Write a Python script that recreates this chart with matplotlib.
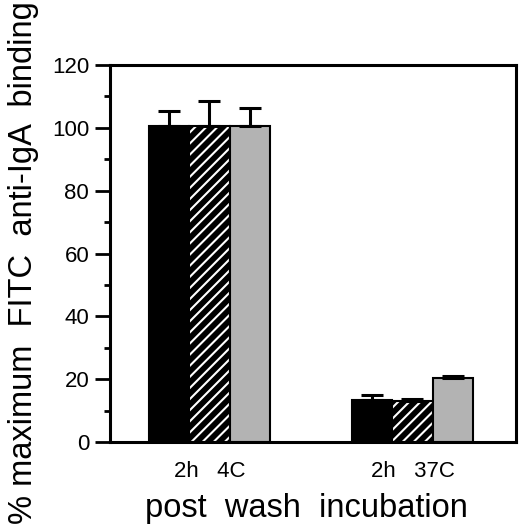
import numpy as np
import matplotlib
matplotlib.use("Agg")
import matplotlib.pyplot as plt

plt.rcParams['font.family'] = ['Liberation Sans', 'DejaVu Sans']
plt.rcParams['hatch.color'] = 'white'
plt.rcParams['hatch.linewidth'] = 1.5

groups = ["2h   4C", "2h   37C"]
black_vals = [100.5, 13.5]
black_err = [4.8, 1.6]
hatch_vals = [100.5, 13.0]
hatch_err = [8.0, 0.6]
gray_vals = [100.5, 20.5]
gray_err = [5.8, 0.6]

fig = plt.figure(figsize=(5.2, 5.26), dpi=100)
ax = fig.add_axes([0.2115, 0.1597, 0.7808, 0.7167])

centers = np.array([2.45, 7.45])
w = 1.0
err_kw = dict(capsize=8, capthick=2.2, elinewidth=2.2, ecolor="black")
ax.bar(centers - w, black_vals, w, color="black", edgecolor="black", linewidth=1.5,
       yerr=[np.zeros(2), black_err], error_kw=err_kw)
ax.bar(centers, hatch_vals, w, color="black", edgecolor="white", hatch="///", linewidth=0,
       yerr=[np.zeros(2), hatch_err], error_kw=err_kw)
ax.bar(centers, hatch_vals, w, fill=False, edgecolor="black", linewidth=1.5)
ax.bar(centers + w, gray_vals, w, color="#b3b3b3", edgecolor="black", linewidth=1.5,
       yerr=[np.zeros(2), gray_err], error_kw=err_kw)

ax.set_xlim(0, 10)
ax.set_ylim(0, 120)
ax.set_yticks(np.arange(0, 121, 20))
ax.set_yticks(np.arange(10, 120, 20), minor=True)
ax.set_xticks(centers)
ax.set_xticklabels(groups)
ax.tick_params(axis="y", which="major", length=11, width=2, labelsize=16, pad=4)
ax.tick_params(axis="y", which="minor", length=4, width=2)
ax.tick_params(axis="x", length=0, labelsize=16, pad=14)
for s in ax.spines.values():
    s.set_linewidth(2.2)

fig.text(0.046, 0.5, "% maximum  FITC  anti-IgA  binding", rotation=90,
         ha="center", va="center", fontsize=23.5)
fig.text(0.589, 0.017, "post  wash  incubation", ha="center", va="baseline", fontsize=23.5)

fig.savefig("out.png", dpi=100)
